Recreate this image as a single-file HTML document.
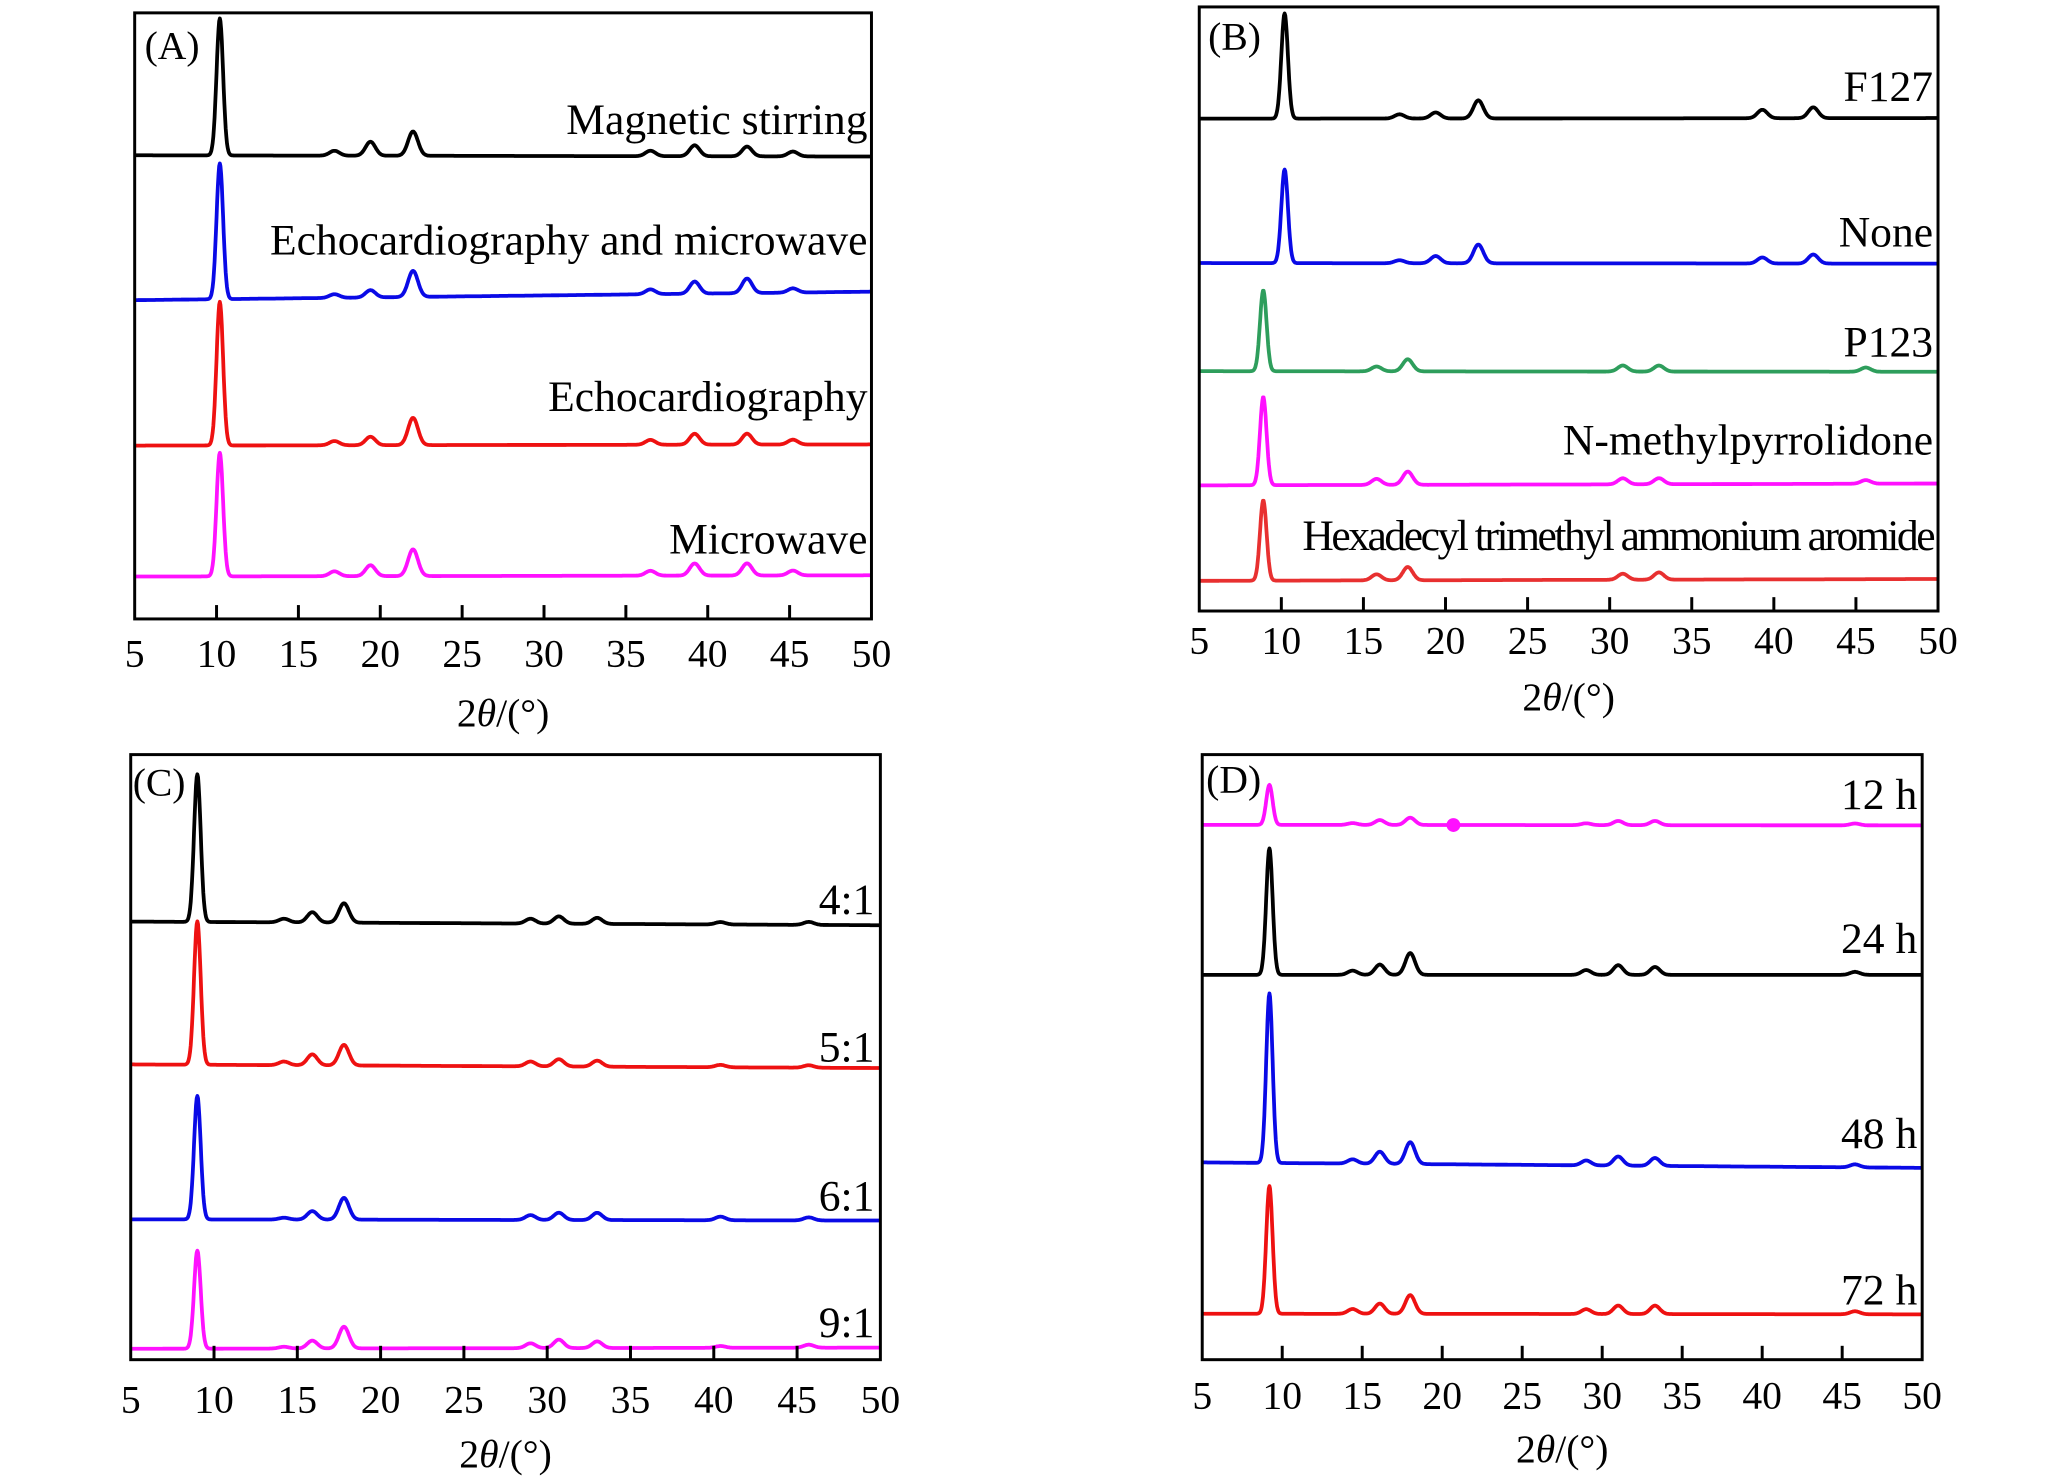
<!DOCTYPE html>
<html><head><meta charset="utf-8"><style>
html,body{margin:0;padding:0;background:#fff}
svg{display:block}
text{font-family:"Liberation Serif",serif;fill:#000}
</style></head><body>
<svg id="fig" width="2047" height="1482" viewBox="0 0 2047 1482" xmlns="http://www.w3.org/2000/svg"><g id="root" transform="scale(0.9903)"></g></svg>
<script>
// ---------- data ----------
const xTicks = [5,10,15,20,25,30,35,40,45,50];

// Panel A
const aLabels = ["Magnetic stirring","Echocardiography and microwave","Echocardiography","Microwave"];
const aColors = ["#000000","#0a0ae6","#ee1111","#ff11ff"];
const aBaseStart = [76.5, 52.6, 28.6, 7.0];
const aBaseEnd   = [76.3, 54.0, 28.8, 7.2];
const aPeakPos = [10.2, 17.2, 19.4, 22.0, 36.5, 39.2, 42.4, 45.2];
const aPeakH = [
  [22.6, 0.8, 2.3, 4.0, 0.9, 1.8, 1.6, 0.8],
  [22.4, 0.6, 1.2, 4.3, 0.8, 2.0, 2.4, 0.7],
  [23.7, 0.7, 1.4, 4.5, 0.8, 1.8, 1.8, 0.8],
  [20.4, 0.8, 1.8, 4.4, 0.8, 2.0, 2.0, 0.8]
];

// Panel B
const bLabels = ["F127","None","P123","N-methylpyrrolidone","Hexadecyl trimethyl ammonium aromide"];
const bColors = ["#000000","#0a0ae6","#2e9e5c","#ff11ff","#e83030"];
const bBaseStart = [81.5, 57.6, 39.7, 20.8, 5.0];
const bBaseEnd   = [81.6, 57.5, 39.6, 21.1, 5.3];
const bPeakPos = [8.9, 10.2, 15.8, 17.2, 17.7, 19.4, 22.0, 30.8, 33.0, 39.3, 42.4, 45.6];
const bPeakH = [
  [0, 17.4, 0, 0.7, 0, 1.0, 3.0, 0, 0, 1.4, 1.8, 0],
  [0, 15.5, 0, 0.5, 0, 1.2, 3.1, 0, 0, 1.0, 1.5, 0],
  [13.4, 0, 0.8, 0, 2.0, 0, 0, 1.0, 1.0, 0, 0, 0.7],
  [14.6, 0, 1.0, 0, 2.2, 0, 0, 1.0, 1.0, 0, 0, 0.6],
  [13.3, 0, 1.0, 0, 2.2, 0, 0, 1.0, 1.2, 0, 0, 0]
];

// Panel C
const cLabels = ["4:1","5:1","6:1","9:1"];
const cColors = ["#000000","#ee1111","#0a0ae6","#ff11ff"];
const cBaseStart = [72.4, 48.8, 23.2, 1.8];
const cBaseEnd   = [71.8, 48.2, 23.0, 2.0];
const cPeakPos = [9.0, 14.2, 15.9, 17.8, 29.0, 30.7, 33.0, 40.4, 45.7];
const cPeakH = [
  [24.4, 0.6, 1.7, 3.2, 0.8, 1.2, 1.0, 0.4, 0.5],
  [23.7, 0.6, 1.8, 3.4, 0.8, 1.2, 1.0, 0.4, 0.4],
  [20.4, 0.3, 1.4, 3.6, 0.8, 1.2, 1.2, 0.6, 0.5],
  [16.2, 0.3, 1.3, 3.6, 0.8, 1.4, 1.1, 0.3, 0.5]
];

// Panel D
const dLabels = ["12 h","24 h","48 h","72 h"];
const dColors = ["#ff11ff","#000000","#0a0ae6","#ee1111"];
const dBaseStart = [88.4, 63.6, 32.6, 7.6];
const dBaseEnd   = [88.3, 63.6, 31.7, 7.5];
const dPeakPos = [9.2, 14.4, 16.1, 18.0, 29.0, 31.0, 33.3, 45.8];
const dPeakH = [
  [6.6, 0.3, 0.8, 1.2, 0.3, 0.7, 0.7, 0.3],
  [20.9, 0.7, 1.7, 3.6, 0.8, 1.6, 1.3, 0.5],
  [28.0, 0.7, 2.0, 3.6, 0.8, 1.5, 1.3, 0.5],
  [21.1, 0.8, 1.7, 3.1, 0.8, 1.4, 1.4, 0.5]
];
const dMarkerX = [20.7];

// ---------- layout ----------
const frames = {
  A:{x0:136,x1:880,y0:13,y1:625, tickY:660, titleY:720},
  B:{x0:1211,x1:1957,y0:7,y1:617, tickY:647, titleY:704},
  C:{x0:132,x1:889,y0:762,y1:1373, tickY:1413, titleY:1468},
  D:{x0:1214,x1:1941,y0:762,y1:1373, tickY:1409, titleY:1463}
};
const NS="http://www.w3.org/2000/svg";
const root=document.getElementById('root');
function mk(tag,attrs,parent){const e=document.createElementNS(NS,tag);for(const k in attrs)e.setAttribute(k,attrs[k]);(parent||root).appendChild(e);return e;}

function drawPanel(id, labels, colors, bs, be, pos, H, labelX, labelY, labelStyles, letterPos){
  const f=frames[id];
  const g=mk('g',{});
  
  
  const sx=v=>f.x0+(v-5)/45*(f.x1-f.x0);
  const sy=u=>f.y1-u/100*(f.y1-f.y0);
  labels.forEach((lab,i)=>{
    let d='';
    for(let x=5;x<=50.0001;x+=0.04){
      let u=bs[i]+(be[i]-bs[i])*(x-5)/45;
      pos.forEach((p,k)=>{const h=H[i][k]; if(!h)return; const w=h>6?0.2:0.3; u+=h*Math.exp(-0.5*((x-p)/w)**2);});
      d+=(d?'L':'M')+sx(x).toFixed(1)+' '+sy(u).toFixed(1);
    }
    const p=mk('path',{d:d,fill:'none',stroke:colors[i],'stroke-width':3.8,'stroke-linejoin':'round'},g);
    
    
    const t=mk('text',{x:labelX,y:labelY[i],'text-anchor':'end','font-size':44,'dominant-baseline':'central',style:labelStyles[i]||''},g);
    t.textContent=lab;
    
    
  });
  const r=mk('rect',{x:f.x0,y:f.y0,width:f.x1-f.x0,height:f.y1-f.y0,fill:'none',stroke:'#000','stroke-width':3},g);
  
  
  xTicks.forEach(v=>{
    const x=sx(v);
    if(v>5&&v<50){
      const tk=mk('line',{x1:x,x2:x,y1:f.y1,y2:f.y1-14,stroke:'#000','stroke-width':3},g);
      
      
    }
    const tl=mk('text',{x:x,y:f.tickY,'text-anchor':'middle','dominant-baseline':'central','font-size':40},g);
    tl.textContent=v;
    
    
  });
  const tt=mk('text',{x:(f.x0+f.x1)/2,y:f.titleY,'text-anchor':'middle','dominant-baseline':'central','font-size':40},g);
  tt.innerHTML='2<tspan font-style="italic">θ</tspan>/(°)';
  
  
  const pl=mk('text',{x:letterPos[0],y:letterPos[1],'dominant-baseline':'central','font-size':40},g);
  pl.textContent='('+id+')';
  
  
  return {sx,sy,g};
}

drawPanel('A',aLabels,aColors,aBaseStart,aBaseEnd,aPeakPos,aPeakH,876,[121,243,401,545],[],[146,46]);
drawPanel('B',bLabels,bColors,bBaseStart,bBaseEnd,bPeakPos,bPeakH,1952,[88,235,346,445,541],['','','','','letter-spacing:-2.5px'],[1220,37]);
drawPanel('C',cLabels,cColors,cBaseStart,cBaseEnd,cPeakPos,cPeakH,883,[909,1058,1208,1336],[],[134,790]);
const pd=drawPanel('D',dLabels,dColors,dBaseStart,dBaseEnd,dPeakPos,dPeakH,1936,[803,948,1145,1303],[],[1218,787]);
dMarkerX.forEach(mx=>{
  const u=dBaseStart[0]+(dBaseEnd[0]-dBaseStart[0])*(mx-5)/45;
  const c=mk('circle',{cx:pd.sx(mx),cy:pd.sy(u),r:7,fill:dColors[0]},pd.g);
  
  
});
</script>
</body></html>
